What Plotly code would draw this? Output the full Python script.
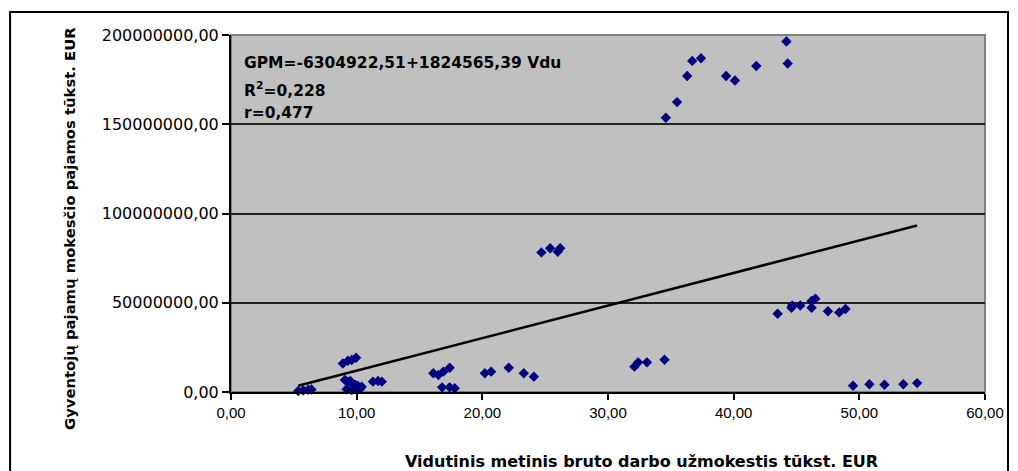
import plotly.graph_objects as go

# Average annual gross wage (thousand EUR) and personal income tax revenue (EUR)
vdu = [5.35, 5.75, 6.15, 6.4,
       8.9, 9.3, 9.6, 9.95,
       9.07, 9.3, 9.6, 9.9, 10.1, 10.4, 9.2, 9.6, 10.0, 10.3, 9.5,
       11.3, 11.7, 12.0,
       16.1, 16.5, 16.9, 17.4, 16.8, 17.4, 17.8,
       20.2, 20.7, 22.1, 23.3, 24.1,
       24.7, 25.4, 26.0, 26.2,
       32.1, 32.4, 33.1, 34.5,
       34.6, 35.5, 36.3, 36.7, 37.4, 39.4, 40.1, 41.8, 44.2, 44.3,
       43.5, 44.6, 44.65, 45.3, 46.2, 46.5, 46.2, 47.5, 48.4, 48.9,
       49.5, 50.8, 52.0, 53.5, 54.6]
gpm = [0.6e6, 0.9e6, 1.3e6, 1.4e6,
       16.0e6, 17.5e6, 17.9e6, 19.2e6,
       6.7e6, 5.8e6, 4.9e6, 3.9e6, 3.4e6, 3.0e6, 1.5e6, 1.1e6, 1.1e6, 2.0e6, 6.2e6,
       5.8e6, 6.2e6, 5.8e6,
       10.5e6, 9.5e6, 11.4e6, 13.6e6, 2.6e6, 2.6e6, 2.1e6,
       10.5e6, 11.4e6, 13.6e6, 10.5e6, 8.6e6,
       78.2e6, 80.5e6, 78.6e6, 80.5e6,
       14.2e6, 16.6e6, 16.6e6, 18.1e6,
       153.6e6, 162.4e6, 177.0e6, 185.5e6, 187.0e6, 177.0e6, 174.5e6, 182.6e6, 196.4e6, 184.0e6,
       43.8e6, 47.2e6, 48.5e6, 48.5e6, 51.0e6, 52.3e6, 47.2e6, 45.2e6, 44.6e6, 46.5e6,
       3.5e6, 4.3e6, 4.1e6, 4.3e6, 5.0e6]

# Linear regression GPM = a + b * Vdu
intercept = -6304922.51
slope = 1824565.39
r_squared = "0,228"
r_value = "0,477"

x_ticks = [0, 10, 20, 30, 40, 50, 60]
x_tick_labels = ["0,00", "10,00", "20,00", "30,00", "40,00", "50,00", "60,00"]
y_ticks = [0, 50e6, 100e6, 150e6, 200e6]
y_tick_labels = ["0,00", "50000000,00", "100000000,00", "150000000,00", "200000000,00"]

x_title = "Vidutinis metinis bruto darbo užmokestis tūkst. EUR"
y_title = "Gyventojų pajamų mokesčio pajamos tūkst. EUR"

x_line = [min(vdu), max(vdu)]
y_line = [intercept + slope * v for v in x_line]

WIDE = "DejaVu Sans, sans-serif"

fig = go.Figure()
fig.add_trace(go.Scatter(
    x=vdu, y=gpm, mode="markers",
    marker=dict(symbol="diamond", size=8, color="#000080", line=dict(width=0)),
    showlegend=False, cliponaxis=False,
))
fig.add_trace(go.Scatter(
    x=x_line, y=y_line, mode="lines",
    line=dict(color="black", width=2.5),
    showlegend=False,
))

fig.update_layout(
    width=1018, height=471,
    margin=dict(l=231, r=33, t=35, b=79),
    paper_bgcolor="white",
    plot_bgcolor="#C0C0C0",
    font=dict(family="Liberation Sans, Arial, sans-serif", color="black"),
    xaxis=dict(
        range=[0, 60], tickvals=x_ticks, ticktext=x_tick_labels,
        showgrid=False, zeroline=False,
        showline=True, linecolor="black", linewidth=2,
        ticks="outside", ticklen=6, tickwidth=1.5, tickcolor="black",
        tickfont=dict(size=15, family="Liberation Sans, Arial, sans-serif"),
    ),
    yaxis=dict(
        range=[0, 200e6], tickvals=y_ticks, ticktext=y_tick_labels,
        showgrid=True, gridcolor="#222222", gridwidth=1.5,
        zeroline=False,
        showline=True, linecolor="black", linewidth=2,
        ticks="outside", ticklen=7, tickwidth=1.5, tickcolor="black",
        tickfont=dict(size=16, family=WIDE),
    ),
    shapes=[
        # plot-area border (top and right edges)
        dict(type="rect", xref="paper", yref="paper", x0=0, x1=1, y0=0, y1=1,
             line=dict(color="#808080", width=2), layer="below"),
        # outer chart frame
        dict(type="rect", xref="paper", yref="paper",
             x0=-0.293, x1=1.0305, y0=-0.24, y1=1.0644,
             line=dict(color="black", width=2), layer="above"),
    ],
    annotations=[
        dict(xref="paper", yref="paper", x=0.0146, y=0.9216, xanchor="left", yanchor="middle",
             text="<b>GPM=%s+%s Vdu</b>" % (f"{intercept:.2f}".replace(".", ","),
                                             f"{slope:.2f}".replace(".", ",")),
             showarrow=False, font=dict(size=15.5, family=WIDE)),
        dict(xref="paper", yref="paper", x=0.0146, y=0.8487, xanchor="left", yanchor="middle",
             text="<b>R<sup>2</sup>=%s</b>" % r_squared,
             showarrow=False, font=dict(size=15.5, family=WIDE)),
        dict(xref="paper", yref="paper", x=0.0146, y=0.7815, xanchor="left", yanchor="middle",
             text="<b>r=%s</b>" % r_value,
             showarrow=False, font=dict(size=15.5, family=WIDE)),
        dict(xref="paper", yref="paper", x=0.5438, y=-0.196, xanchor="center", yanchor="middle",
             text="<b>%s</b>" % x_title, showarrow=False, font=dict(size=16, family=WIDE)),
        dict(xref="paper", yref="paper", x=-0.2135, y=0.4566, xanchor="center", yanchor="middle",
             text="<b>%s</b>" % y_title, textangle=-90, showarrow=False,
             font=dict(size=14.8, family=WIDE)),
    ],
)

fig.write_html("out.html")
